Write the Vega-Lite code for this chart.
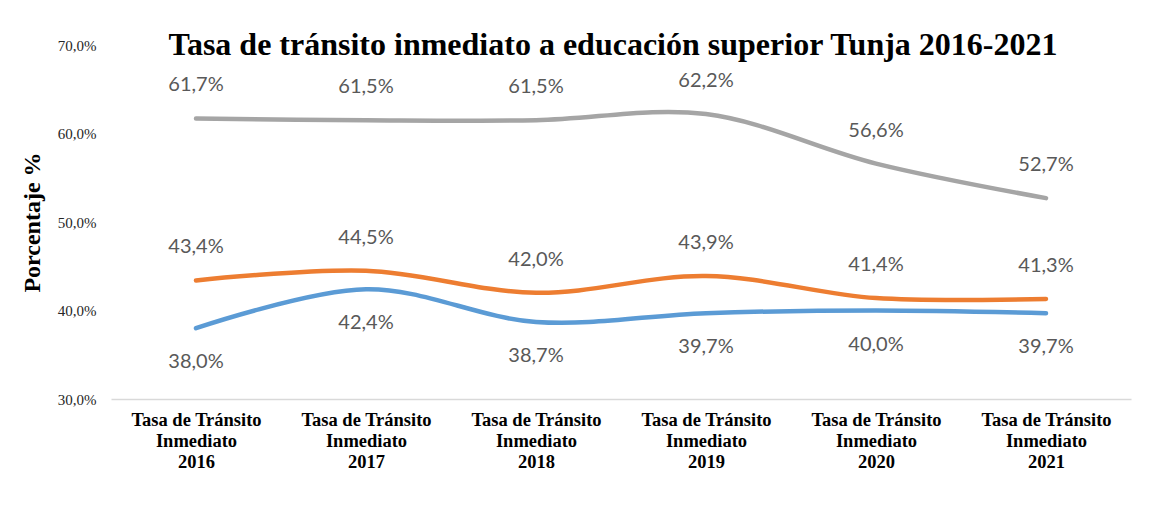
{
  "$schema": "https://vega.github.io/schema/vega-lite/v6.json",
  "width": 1020,
  "height": 354,
  "autosize": {"type": "none"},
  "padding": {"left": 111, "top": 45, "right": 43, "bottom": 115},
  "background": "white",
  "config": {
    "locale": {"number": {"decimal": ",", "thousands": ".", "grouping": [3], "currency": ["", " €"]}},
    "view": {"stroke": null},
    "axis": {"grid": false, "ticks": false}
  },
  "title": {
    "text": "Tasa de tránsito inmediato a educación superior Tunja 2016-2021",
    "font": "Liberation Serif",
    "fontSize": 32,
    "fontWeight": "bold",
    "color": "#000000",
    "anchor": "middle",
    "baseline": "alphabetic",
    "offset": -49,
    "dx": -8
  },
  "data": {
    "values": [
      {"anio": "2016", "serie": "C", "valor": 0.617},
      {"anio": "2017", "serie": "C", "valor": 0.615},
      {"anio": "2018", "serie": "C", "valor": 0.615},
      {"anio": "2019", "serie": "C", "valor": 0.622},
      {"anio": "2020", "serie": "C", "valor": 0.566},
      {"anio": "2021", "serie": "C", "valor": 0.527},
      {"anio": "2016", "serie": "B", "valor": 0.434},
      {"anio": "2017", "serie": "B", "valor": 0.445},
      {"anio": "2018", "serie": "B", "valor": 0.420},
      {"anio": "2019", "serie": "B", "valor": 0.439},
      {"anio": "2020", "serie": "B", "valor": 0.414},
      {"anio": "2021", "serie": "B", "valor": 0.413},
      {"anio": "2016", "serie": "A", "valor": 0.380},
      {"anio": "2017", "serie": "A", "valor": 0.424},
      {"anio": "2018", "serie": "A", "valor": 0.387},
      {"anio": "2019", "serie": "A", "valor": 0.397},
      {"anio": "2020", "serie": "A", "valor": 0.400},
      {"anio": "2021", "serie": "A", "valor": 0.397}
    ]
  },
  "encoding": {
    "x": {
      "field": "anio",
      "type": "ordinal",
      "scale": {"type": "point", "padding": 0.5},
      "axis": {
        "title": null,
        "labelAngle": 0,
        "labelExpr": "['Tasa de Tránsito', 'Inmediato', datum.label]",
        "labelFont": "Liberation Serif",
        "labelFontSize": 18.5,
        "labelFontWeight": "bold",
        "labelColor": "#000000",
        "labelLineHeight": 21,
        "labelBaseline": "top",
        "labelPadding": 11,
        "domainColor": "#D9D9D9",
        "domainWidth": 1.5
      }
    },
    "y": {
      "field": "valor",
      "type": "quantitative",
      "scale": {"domain": [0.3, 0.7], "nice": false, "zero": false},
      "axis": {
        "title": "Porcentaje %",
        "titleFont": "Liberation Serif",
        "titleFontSize": 24,
        "titleFontWeight": "bold",
        "titleColor": "#000000",
        "titlePadding": 13,
        "format": ".1%",
        "values": [0.3, 0.4, 0.5, 0.6, 0.7],
        "labelFont": "Liberation Serif",
        "labelFontSize": 15,
        "labelColor": "#262626",
        "labelPadding": 15,
        "domain": false
      }
    },
    "color": {
      "field": "serie",
      "type": "nominal",
      "scale": {"domain": ["A", "B", "C"], "range": ["#5B9BD5", "#ED7D31", "#A5A5A5"]},
      "legend": null
    }
  },
  "layer": [
    {
      "mark": {"type": "line", "interpolate": "catmull-rom", "strokeWidth": 4.5, "strokeCap": "round", "strokeJoin": "round"}
    },
    {
      "transform": [{"filter": "datum.serie !== 'A'"}],
      "mark": {"type": "text", "font": "Lato", "fontSize": 20, "color": "#595959", "dy": -33},
      "encoding": {
        "text": {"field": "valor", "type": "quantitative", "format": ".1%"},
        "color": {"value": "#595959"}
      }
    },
    {
      "transform": [{"filter": "datum.serie === 'A'"}],
      "mark": {"type": "text", "font": "Lato", "fontSize": 20, "color": "#595959", "dy": 34},
      "encoding": {
        "text": {"field": "valor", "type": "quantitative", "format": ".1%"},
        "color": {"value": "#595959"}
      }
    }
  ]
}
